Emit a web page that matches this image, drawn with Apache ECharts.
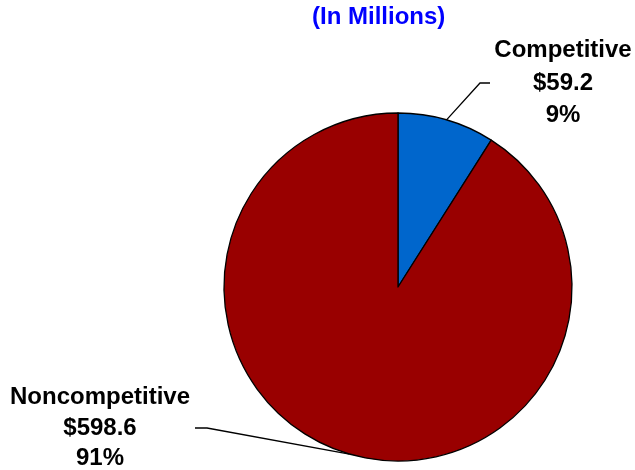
<!DOCTYPE html>
<html><head><meta charset="utf-8">
<script src="https://cdn.jsdelivr.net/npm/echarts@6/dist/echarts.min.js"></script>
<style>html,body{margin:0;padding:0;background:#fff}#c{width:635px;height:470px}</style>
</head><body><div id="c"></div>
<script>
// ---- data ----
const categories = ['Competitive', 'Noncompetitive'];
const values = [59.2, 598.6];
const titleText = '(In Millions)';

// ---- styling / placement (not data) ----
const sliceColors = ['#0066CC', '#990000'];
const labelAnchors = [[563, 83], [100, 428]];
const labelLineHeights = [32.5, 30.5];
const leaderEndOffsets = [[-73, 0], [95, 0]];
const leaderElbowShift = [-10, 12];

const chart = echarts.init(document.getElementById('c'), null, {renderer: 'canvas'});
const FONT = '"Liberation Sans", Arial, sans-serif';

chart.setOption({
  animation: false,
  backgroundColor: '#ffffff',
  title: {
    text: titleText,
    left: 312,
    top: 5,
    padding: 0,
    textStyle: {color: '#0000FF', fontSize: 24, fontWeight: 'bold', fontFamily: FONT}
  },
  series: [{
    type: 'pie',
    center: [398, 287],
    radius: 174,
    startAngle: 90,
    clockwise: true,
    avoidLabelOverlap: false,
    emphasis: {disabled: true},
    itemStyle: {borderColor: '#000', borderWidth: 1.3},
    label: {
      show: true,
      position: 'outside',
      color: '#000',
      fontSize: 24,
      fontWeight: 'bold',
      fontFamily: FONT,
      formatter: function (p) {
        return p.name + '\n$' + p.value.toFixed(1) + '\n' + Math.round(p.percent) + '%';
      }
    },
    labelLine: {show: true, lineStyle: {color: '#000', width: 1.3}, length: 20, length2: 10},
    labelLayout: function (params) {
      const i = params.dataIndex;
      const a = labelAnchors[i];
      const end = [a[0] + leaderEndOffsets[i][0], a[1] + leaderEndOffsets[i][1]];
      const elbow = [end[0] + leaderElbowShift[i], end[1]];
      const start = params.labelLinePoints ? params.labelLinePoints[0] : elbow;
      return {
        x: a[0], y: a[1], align: 'center', verticalAlign: 'middle',
        labelLinePoints: [start, elbow, end]
      };
    },
    data: categories.map(function (c, i) {
      return {
        name: c, value: values[i],
        itemStyle: {color: sliceColors[i]},
        label: {lineHeight: labelLineHeights[i]}
      };
    })
  }]
});
</script>
</body></html>
